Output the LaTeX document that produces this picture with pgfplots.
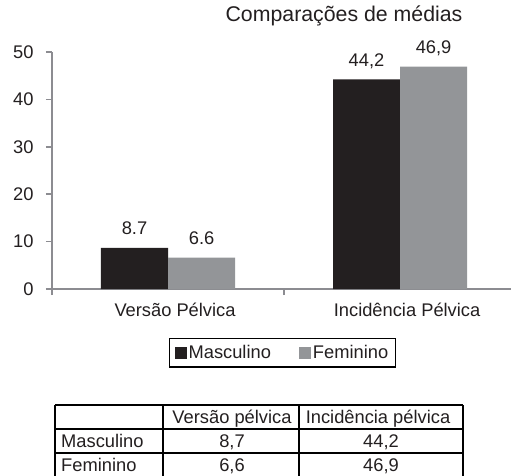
\documentclass[border=0pt]{standalone}
\usepackage{fontspec}
\setmainfont{Liberation Sans}
\usepackage{pgfplots}
\usepackage{pgfplotstable}
\pgfplotsset{compat=1.18}
\definecolor{barblack}{RGB}{35,31,32}
\definecolor{bargray}{RGB}{147,149,152}
\definecolor{axisgray}{RGB}{140,140,145}
\definecolor{txt}{RGB}{35,31,32}
\pgfplotstableread{
x y lab
0 8.7 8.7
1 44.2 44,2
}\masc
\pgfplotstableread{
x y lab
0 6.6 6.6
1 46.9 46,9
}\fem
\newcommand{\fs}{\fontsize{18.3}{22}\selectfont}
\pgfplotsset{sqlegend/.style={legend image code/.code={\fill[##1] (0pt,-6pt) rectangle (12pt,6pt);}}}
\begin{document}
\begin{tikzpicture}[x=1pt,y=1pt]
\useasboundingbox (0,0) rectangle (511,475);
\begin{axis}[
  at={(52pt,186pt)}, anchor=south west,
  scale only axis, width=459pt, height=237pt,
  xmin=-0.5, xmax=1.478, ymin=0, ymax=50,
  clip=false,
  ybar,
  axis x line*=bottom, axis y line*=left,
  axis line style={axisgray, line width=1.6pt},
  tick align=outside, major tick length=6pt,
  tick style={axisgray, line width=1.6pt},
  ytick={0,10,...,50},
  xtick={-0.5,0.5}, xticklabels={,},
  extra x ticks={0,1},
  extra x tick labels={Versão Pélvica, Incidência Pélvica},
  extra x tick style={major tick length=0pt, xticklabel style={xshift=7pt}},
  /pgf/number format/assume math mode=true,
  ticklabel style={font=\fs, text=txt},
  xticklabel style={anchor=base, yshift=-27pt},
  yticklabel style={anchor=east, xshift=-9pt},
  legend columns=2,
  legend style={at={(0.502,-0.205)}, anchor=north, draw=black, line width=1.2pt,
    font=\fs, text=txt, inner xsep=5pt, inner ysep=5pt, nodes={font=\fs},
    /tikz/every even column/.append style={column sep=26pt}},
  nodes near coords,
  point meta=explicit symbolic,
  nodes near coords style={font=\fs, text=txt, anchor=base, yshift=13pt, inner sep=0pt},
]
\addplot[fill=barblack, draw=none, bar width=0.289, bar shift=-0.1445, sqlegend] table[x=x, y=y, meta=lab]{\masc};
\addplot[fill=bargray, draw=none, bar width=0.289, bar shift=0.1445, sqlegend] table[x=x, y=y, meta=lab]{\fem};
\legend{Masculino, Feminino}
\end{axis}
% title
\node[anchor=base, font=\fontsize{21.3}{25}\selectfont, text=txt, inner sep=0pt] at (344,453) {Comparações de médias};
% table
\begin{scope}[line width=1.2pt]
\draw (55,70) -- (463,70);
\draw (55,46) -- (463,46);
\draw (55,22) -- (463,22);
\draw (55,-2) -- (463,-2);
\draw (55,70) -- (55,-2);
\draw (163,70) -- (163,-2);
\draw (299,70) -- (299,-2);
\draw (463,70) -- (463,-2);
\end{scope}
\begin{scope}[every node/.style={inner sep=0pt, font=\fs, text=txt}]
\node[anchor=base] at (232,52) {Versão pélvica};
\node[anchor=base] at (378,52) {Incidência pélvica};
\node[anchor=base west] at (61,28) {Masculino};
\node[anchor=base west] at (61,4) {Feminino};
\node[anchor=base] at (232,28) {8,7};
\node[anchor=base] at (381,28) {44,2};
\node[anchor=base] at (232,4) {6,6};
\node[anchor=base] at (381,4) {46,9};
\end{scope}
\end{tikzpicture}
\end{document}
